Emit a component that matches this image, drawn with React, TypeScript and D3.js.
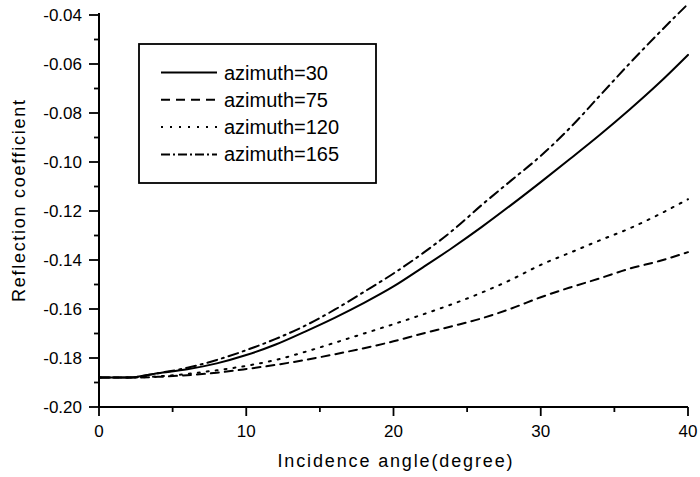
import React from "react";
import * as d3 from "d3";

const xTicks = [0, 10, 20, 30, 40];
const yTicks = [-0.2, -0.18, -0.16, -0.14, -0.12, -0.1, -0.08, -0.06, -0.04];
const xMinorTicks = [5, 15, 25, 35];
const yMinorTicks = [-0.19, -0.17, -0.15, -0.13, -0.11, -0.09, -0.07, -0.05];

const seriesNames = ["azimuth=30", "azimuth=75", "azimuth=120", "azimuth=165"];

const angles = [0, 2, 4, 6, 8, 10, 12, 14, 16, 18, 20, 22, 24, 26, 28, 30, 32, 34, 36, 38, 40];
const az30 = [
  -0.188, -0.188, -0.1862, -0.1846, -0.1822, -0.1788, -0.1745, -0.1692, -0.1636, -0.1575,
  -0.1508, -0.143, -0.135, -0.1265, -0.1175, -0.1082, -0.0987, -0.089, -0.0788, -0.068, -0.0563,
];
const az75 = [
  -0.188, -0.188, -0.1877, -0.187, -0.186, -0.1845, -0.1828, -0.1808, -0.1785, -0.176,
  -0.1732, -0.17, -0.167, -0.1638, -0.1598, -0.1552, -0.1512, -0.1475, -0.1436, -0.1405, -0.1368,
];
const az120 = [
  -0.188, -0.188, -0.1875, -0.1865, -0.185, -0.1832, -0.1808, -0.1775, -0.1738, -0.17,
  -0.1662, -0.1622, -0.158, -0.1533, -0.148, -0.142, -0.137, -0.132, -0.1272, -0.1215, -0.1152,
];
const az165 = [
  -0.188, -0.188, -0.1862, -0.184, -0.1808, -0.1768, -0.1722, -0.1668, -0.1603, -0.153,
  -0.1455, -0.1372, -0.128, -0.1175, -0.1075, -0.0975, -0.086, -0.073, -0.06, -0.0475, -0.0355,
];

const seriesData = [az30, az75, az120, az165];
const dashes = ["none", "8,6", "2,7", "10,5,2,5"];
const legendDashes = ["none", "9,6", "2,7", "9,3,2,3"];

const FONT = "'Liberation Sans', Arial, Helvetica, sans-serif";

export default function App() {
  const x = d3.scaleLinear().domain([0, 40]).range([99, 688]);
  const y = d3.scaleLinear().domain([-0.2, -0.04]).range([407, 15]);
  const line = d3
    .line<number>()
    .x((_, i) => x(angles[i]))
    .y((d) => y(d))
    .curve(d3.curveMonotoneX);

  const x0 = x(0);
  const y0 = y(-0.2);

  return (
    <svg
      width={700}
      height={477}
      style={{ position: "absolute", left: 0, top: 0, background: "#fff" }}
      fontFamily={FONT}
    >
      <rect x={0} y={0} width={700} height={477} fill="#fff" />
      <defs>
        <clipPath id="plotclip">
          <rect x={x0} y={0} width={700 - x0} height={y0} />
        </clipPath>
      </defs>

      {/* curves */}
      <g clipPath="url(#plotclip)">
        {seriesData.map((s, i) => (
          <path
            key={i}
            d={line(s) || ""}
            fill="none"
            stroke="#000"
            strokeWidth={2}
            strokeDasharray={dashes[i]}
            strokeLinecap="round"
          />
        ))}
      </g>

      {/* axes */}
      <line x1={x0} y1={y0} x2={x(40)} y2={y0} stroke="#000" strokeWidth={2} />
      <line x1={x0} y1={y0} x2={x0} y2={y(-0.04) - 2} stroke="#000" strokeWidth={2} />

      {xTicks.map((t) => (
        <g key={"xt" + t}>
          <line x1={x(t)} y1={y0} x2={x(t)} y2={y0 + 9} stroke="#000" strokeWidth={1.8} />
          <text x={x(t)} y={437} fontSize={17} textAnchor="middle" fill="#000">
            {t}
          </text>
        </g>
      ))}
      {xMinorTicks.map((t) => (
        <line key={"xm" + t} x1={x(t)} y1={y0} x2={x(t)} y2={y0 + 5} stroke="#000" strokeWidth={1.8} />
      ))}
      {yTicks.map((t) => (
        <g key={"yt" + t}>
          <line x1={x0 - 10} y1={y(t)} x2={x0} y2={y(t)} stroke="#000" strokeWidth={1.8} />
          <text x={82} y={y(t) + 6} fontSize={17} textAnchor="end" fill="#000">
            {d3.format(".2f")(t).replace("−", "-")}
          </text>
        </g>
      ))}
      {yMinorTicks.map((t) => (
        <line key={"ym" + t} x1={x0 - 5} y1={y(t)} x2={x0} y2={y(t)} stroke="#000" strokeWidth={1.8} />
      ))}

      {/* axis titles */}
      <text
        x={395}
        y={467}
        fontSize={18}
        textAnchor="middle"
        textLength={235}
        lengthAdjust="spacing"
        fill="#000"
      >
        Incidence angle(degree)
      </text>
      <text
        transform={`translate(25,201) rotate(-90)`}
        fontSize={18}
        textAnchor="middle"
        textLength={202}
        lengthAdjust="spacing"
        fill="#000"
      >
        Reflection coefficient
      </text>

      {/* legend */}
      <rect x={139} y={44} width={237} height={139} fill="#fff" stroke="#000" strokeWidth={1.8} />
      {seriesNames.map((n, i) => {
        const ly = 72.5 + i * 27.3;
        return (
          <g key={n}>
            <line
              x1={161}
              y1={ly}
              x2={217}
              y2={ly}
              stroke="#000"
              strokeWidth={2}
              strokeDasharray={legendDashes[i]}
            />
            <text x={224} y={ly + 7} fontSize={20} fill="#000">
              {n}
            </text>
          </g>
        );
      })}
    </svg>
  );
}
